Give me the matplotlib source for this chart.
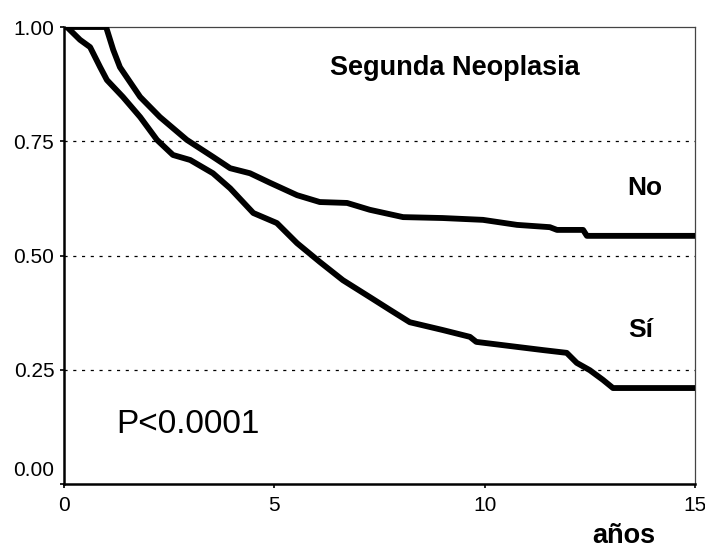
import matplotlib
matplotlib.use("Agg")
import matplotlib.pyplot as plt
from matplotlib.transforms import ScaledTranslation

plt.rcParams['font.family'] = ['Liberation Sans', 'DejaVu Sans']

# Kaplan-Meier survival estimates (years, survival proportion)
no_t = [0.0, 1.0, 1.17, 1.33, 1.81, 2.28, 2.92, 3.54, 3.95, 4.42, 4.9, 5.54, 6.08,
        6.73, 7.27, 8.06, 9.0, 9.96, 10.77, 11.55, 11.72, 12.34, 12.43, 15.0]
no_s = [1.0, 1.0, 0.95, 0.912, 0.847, 0.803, 0.753, 0.716, 0.691, 0.680, 0.659, 0.632, 0.617,
        0.615, 0.600, 0.584, 0.582, 0.578, 0.567, 0.562, 0.556, 0.556, 0.543, 0.543]

si_t = [0.0, 0.07, 0.38, 0.62, 0.86, 1.02, 1.4, 1.81, 2.21, 2.59, 3.0, 3.54, 3.95, 4.5,
        5.06, 5.54, 6.08, 6.63, 7.27, 7.75, 8.22, 9.0, 9.65, 9.8, 10.77, 11.39, 11.95,
        12.19, 12.5, 12.81, 13.05, 15.0]
si_s = [1.0, 1.0, 0.972, 0.956, 0.912, 0.884, 0.847, 0.803, 0.753, 0.72, 0.709, 0.68, 0.647, 0.593,
        0.571, 0.527, 0.486, 0.446, 0.409, 0.381, 0.354, 0.337, 0.322, 0.311, 0.300, 0.293, 0.287,
        0.265, 0.249, 0.228, 0.210, 0.210]

x_ticks = [0, 5, 10, 15]
y_ticks = [0.0, 0.25, 0.50, 0.75, 1.0]
grid_levels = [0.25, 0.50, 0.75]

fig = plt.figure(figsize=(7.05, 5.49), dpi=100)
ax = fig.add_axes([0.0908, 0.1184, 0.895, 0.8324])

for g in grid_levels:
    ax.axhline(g, color='black', lw=0.9, ls=(0, (2.5, 4.5)), zorder=1)

ax.plot(no_t, no_s, color='black', lw=4.2, solid_joinstyle='round', zorder=3)
ax.plot(si_t, si_s, color='black', lw=4.2, solid_joinstyle='round', zorder=3)

ax.set_xlim(0, 15)
ax.set_ylim(0, 1.0)
ax.set_xticks(x_ticks)
ax.set_yticks(y_ticks)
ax.set_yticklabels([f"{v:.2f}" for v in y_ticks])
ax.tick_params(axis='both', labelsize=15, length=3, width=1.2, direction='out', pad=4)
ax.tick_params(axis='x', pad=6)

for side in ['left', 'bottom']:
    ax.spines[side].set_linewidth(1.8)
for side in ['top', 'right']:
    ax.spines[side].set_linewidth(0.9)
    ax.spines[side].set_color('#444444')

# lift the lowest y tick label slightly above the baseline
lbl0 = ax.get_yticklabels()[0]
lbl0.set_transform(lbl0.get_transform() + ScaledTranslation(0, 0.15, fig.dpi_scale_trans))

ax.text(9.3, 0.91, 'Segunda Neoplasia', fontsize=19.5, fontweight='bold',
        ha='center', va='center')
ax.text(13.8, 0.648, 'No', fontsize=19, fontweight='bold', ha='center', va='center')
ax.text(13.7, 0.337, 'Sí', fontsize=19, fontweight='bold', ha='center', va='center')
ax.text(2.95, 0.13, 'P<0.0001', fontsize=24, ha='center', va='center')
ax.text(13.3, -0.113, 'años', fontsize=19.5, fontweight='bold', ha='center', va='center',
        clip_on=False)

fig.savefig('out.png', dpi=100)
